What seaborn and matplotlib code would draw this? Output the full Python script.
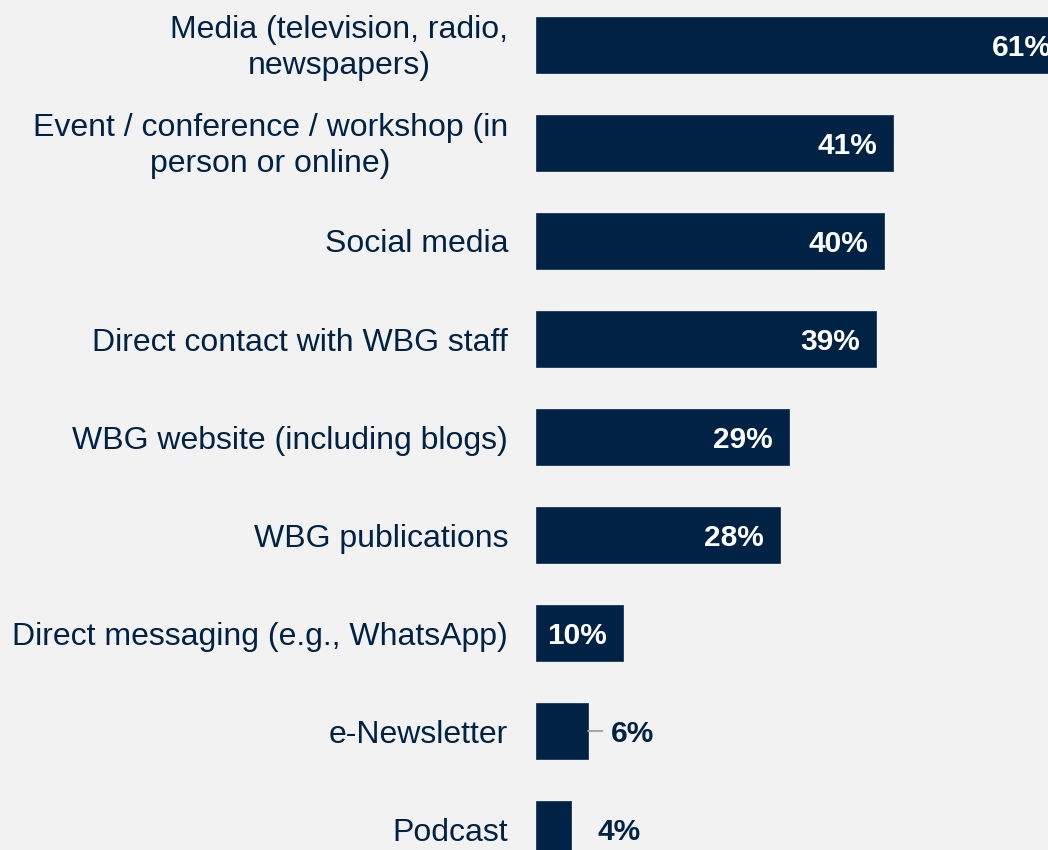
import matplotlib
matplotlib.use("Agg")
import matplotlib.pyplot as plt
import matplotlib.transforms as mtransforms
import seaborn as sns
import pandas as pd

categories = [
    "Media (television, radio,\nnewspapers)",
    "Event / conference / workshop (in\nperson or online)",
    "Social media",
    "Direct contact with WBG staff",
    "WBG website (including blogs)",
    "WBG publications",
    "Direct messaging (e.g., WhatsApp)",
    "e-Newsletter",
    "Podcast",
]
values = [61, 41, 40, 39, 29, 28, 10, 6, 4]

BG = "#F2F2F2"
NAVY = "#002244"

sns.set_theme(style="white")
plt.rcParams["font.family"] = ["Liberation Sans", "DejaVu Sans"]

df = pd.DataFrame({"cat": categories, "val": values})

fig = plt.figure(figsize=(10.48, 8.5), dpi=100, facecolor=BG)
ax = fig.add_axes([536 / 1048, 0, 1 - 536 / 1048, 1])
ax.set_facecolor(BG)

sns.barplot(data=df, y="cat", x="val", orient="h", color=NAVY, saturation=1,
            width=0.571, ax=ax, edgecolor="#1a3a5c", linewidth=0.6)

ax.set_xlim(0, 512 / 8.71)
ax.set_ylim(8.214, -0.459)
ax.set_xlabel("")
ax.set_ylabel("")
ax.set_xticks([])
for s in ax.spines.values():
    s.set_visible(False)

ax.tick_params(axis="y", length=0, pad=20)
shift = mtransforms.ScaledTranslation(0, -3 / 100, fig.dpi_scale_trans)
for lab in ax.get_yticklabels():
    lab.set_fontsize(23)
    lab.set_color(NAVY)
    lab.set_multialignment("center")
    lab.set_linespacing(1.22)
    if "\n" in lab.get_text():
        lab.set_verticalalignment("center")
        lab.set_transform(lab.get_transform() + shift)

for i, v in enumerate(values):
    if v >= 10:
        ax.annotate(f"{v}%", xy=(v, i), xytext=(-11.5, -2.5), textcoords="offset points",
                    ha="right", va="center", color="white", fontsize=21.5,
                    fontweight="bold", annotation_clip=False, clip_on=False)
    else:
        if v == 6:
            ax.annotate("", xy=(v, i), xytext=(v + 1.6, i),
                        arrowprops=dict(arrowstyle="-", color="#A6A6A6", lw=1.5,
                                        shrinkA=0, shrinkB=0))
            off = 16.5
        else:
            off = 19.5
        ax.annotate(f"{v}%", xy=(v, i), xytext=(off, -2.5), textcoords="offset points",
                    ha="left", va="center", color=NAVY, fontsize=21.5,
                    fontweight="bold")

fig.savefig("out.png", dpi=100, facecolor=BG)
